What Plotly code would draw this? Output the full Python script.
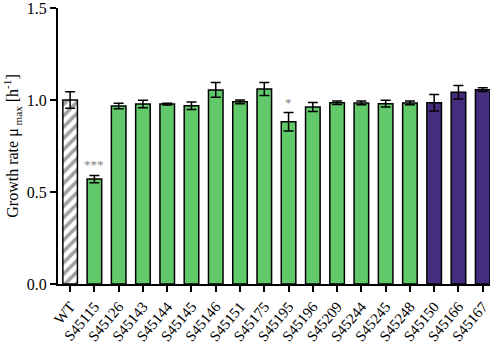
import plotly.graph_objects as go

strains = ["WT", "S45115", "S45126", "S45143", "S45144", "S45145", "S45146", "S45151",
           "S45175", "S45195", "S45196", "S45209", "S45244", "S45245", "S45248",
           "S45150", "S45166", "S45167"]
growth = [1.00, 0.57, 0.967, 0.978, 0.978, 0.969, 1.055, 0.99,
          1.06, 0.882, 0.962, 0.985, 0.984, 0.98, 0.984,
          0.985, 1.042, 1.056]
err = [0.045, 0.02, 0.015, 0.02, 0.005, 0.02, 0.04, 0.01,
       0.035, 0.05, 0.025, 0.01, 0.01, 0.018, 0.01,
       0.045, 0.037, 0.01]
group = ["wt"] + ["green"] * 14 + ["purple"] * 3
signif = {"S45115": "***", "S45195": "*"}

colors = {"wt": "white", "green": "#62c96b", "purple": "#452c7c"}
bar_colors = [colors[g] for g in group]
patterns = ["/" if g == "wt" else "" for g in group]

fig = go.Figure()
fig.add_trace(go.Bar(
    x=strains, y=growth, width=0.6,
    marker=dict(color=bar_colors, line=dict(color="black", width=1.5),
                pattern=dict(shape=patterns, fgcolor="black", bgcolor="white",
                             size=8, solidity=0.45)),
    error_y=dict(type="data", array=err, color="black", thickness=1.5, width=5),
    showlegend=False,
))

for s, txt in signif.items():
    i = strains.index(s)
    fig.add_annotation(x=s, y=growth[i] + err[i], text=txt, showarrow=False,
                       yanchor="bottom", yshift=1,
                       font=dict(family="Liberation Serif", size=13, color="#7f7f7f"))

fig.update_layout(
    width=498, height=345,
    margin=dict(l=58, r=8, t=8, b=61),
    plot_bgcolor="white", paper_bgcolor="white",
    font=dict(family="Liberation Serif", size=15, color="black"),
    bargap=0.4,
)
fig.update_xaxes(
    range=[-0.5, 17.3], showline=True, linecolor="black", linewidth=2,
    ticks="outside", ticklen=6, tickwidth=2, tickcolor="black",
    tickangle=-50, showgrid=False, tickfont=dict(size=15), automargin=False,
    ticklabeloverflow="allow",
)
fig.update_yaxes(
    range=[0, 1.5], tickvals=[0, 0.5, 1.0, 1.5], ticktext=["0.0", "0.5", "1.0", "1.5"],
    showline=True, linecolor="black", linewidth=2,
    ticks="outside", ticklen=6, tickwidth=2, tickcolor="black",
    showgrid=False, zeroline=False, tickfont=dict(size=16), automargin=False,
    ticklabeloverflow="allow",
    title=dict(text="Growth rate μ<sub> max</sub> [h<sup>-1</sup>]", font=dict(size=16), standoff=4),
)

fig.write_html("out.html", config={"displayModeBar": False},
               post_script="document.body.style.margin='0';document.body.style.overflow='hidden';")
